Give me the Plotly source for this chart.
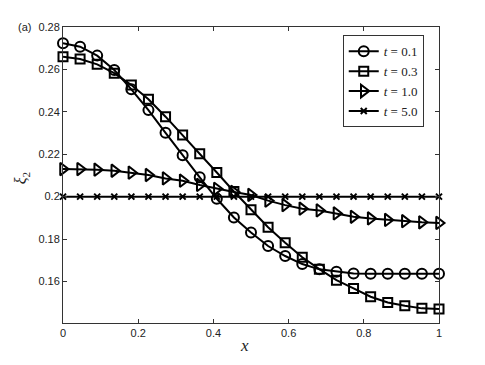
import plotly.graph_objects as go

x_vals = [i / 22 for i in range(23)]

xi_t01 = [0.2723, 0.2707, 0.2665, 0.2597, 0.2506, 0.2408, 0.2301, 0.2195, 0.2091, 0.1990,
          0.1902, 0.1831, 0.1767, 0.1720, 0.1682, 0.1657, 0.1646, 0.1637, 0.1636, 0.1636,
          0.1636, 0.1636, 0.1636]
xi_t03 = [0.2660, 0.2649, 0.2624, 0.2582, 0.2526, 0.2459, 0.2377, 0.2291, 0.2202, 0.2114,
          0.2024, 0.1938, 0.1856, 0.1783, 0.1714, 0.1658, 0.1606, 0.1567, 0.1528, 0.1501,
          0.1485, 0.1473, 0.1470]
xi_t10 = [0.2130, 0.2130, 0.2127, 0.2122, 0.2113, 0.2102, 0.2086, 0.2075, 0.2055, 0.2037,
          0.2022, 0.2008, 0.1981, 0.1960, 0.1943, 0.1935, 0.1921, 0.1905, 0.1897, 0.1890,
          0.1884, 0.1879, 0.1876]
xi_t50 = [0.2] * 23

series_names = ["<i>t</i> = 0.1", "<i>t</i> = 0.3", "<i>t</i> = 1.0", "<i>t</i> = 5.0"]
series_vals = [xi_t01, xi_t03, xi_t10, xi_t50]
symbols = ["circle-open", "square-open", "triangle-right-open", "x-thin-open"]
sizes = [10, 9, 11, 6]

x_ticks = [0, 0.2, 0.4, 0.6, 0.8, 1]
x_ticklabels = ["0", "0.2", "0.4", "0.6", "0.8", "1"]
y_ticks = [0.16, 0.18, 0.2, 0.22, 0.24, 0.26, 0.28]
y_ticklabels = ["0.16", "0.18", "0.2", "0.22", "0.24", "0.26", "0.28"]

SANS = "Liberation Sans, Arial, sans-serif"
SERIF = "Liberation Serif, DejaVu Serif, serif"

fig = go.Figure()
for name, vals, sym, sz in zip(series_names, series_vals, symbols, sizes):
    fig.add_trace(go.Scatter(
        x=x_vals, y=vals, name=name, mode="lines+markers",
        line=dict(color="black", width=2),
        marker=dict(symbol=sym, size=sz, color="black", line=dict(color="black", width=2)),
        cliponaxis=False,
    ))

axis_common = dict(
    showline=True, linecolor="#333333", linewidth=1, mirror="ticks",
    ticks="inside", ticklen=4, tickcolor="#333333",
    showgrid=False, zeroline=False, automargin=False,
    tickfont=dict(family=SANS, size=11, color="#222222"),
)

# the page body adds an 8px offset, so the figure is sized to fit the window
fig.update_layout(
    width=477, height=357,
    margin=dict(l=55, r=46, t=19, b=42),
    paper_bgcolor="white", plot_bgcolor="white",
    showlegend=True,
    legend=dict(
        x=0.744, y=0.972, xanchor="left", yanchor="top",
        bgcolor="white", bordercolor="#333333", borderwidth=1,
        font=dict(family=SERIF, size=13, color="#222222"),
        tracegroupgap=0, itemwidth=30,
    ),
    xaxis=dict(range=[0, 1], tickvals=x_ticks, ticktext=x_ticklabels, **axis_common),
    yaxis=dict(range=[0.1404, 0.28], tickvals=y_ticks, ticktext=y_ticklabels, **axis_common),
    annotations=[
        dict(text="(a)", xref="paper", yref="paper", x=-0.125, y=1.0,
             xanchor="left", yanchor="middle", showarrow=False,
             font=dict(family=SANS, size=11, color="#222222")),
        dict(text="<i>ξ</i><sub>2</sub>", xref="paper", yref="paper", x=-0.108, y=0.49,
             xanchor="center", yanchor="middle", showarrow=False, textangle=-90,
             font=dict(family=SERIF, size=16, color="#222222")),
        dict(text="<i>x</i>", xref="paper", yref="paper", x=0.484, y=-0.075,
             xanchor="center", yanchor="middle", showarrow=False,
             font=dict(family=SERIF, size=17, color="#222222")),
    ],
)

fig.write_html("out.html")
